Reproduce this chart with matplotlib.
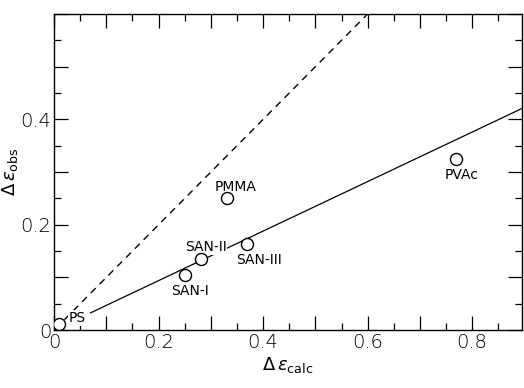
import matplotlib.pyplot as plt
from matplotlib.ticker import MultipleLocator, FuncFormatter

# data
polymers = ['PS', 'SAN-I', 'SAN-II', 'SAN-III', 'PMMA', 'PVAc']
de_calc = [0.01, 0.25, 0.282, 0.37, 0.33, 0.769]
de_obs = [0.011, 0.104, 0.136, 0.164, 0.251, 0.325]
label_x = [0.044, 0.26, 0.29, 0.393, 0.347, 0.78]
label_y = [0.023, 0.075, 0.158, 0.134, 0.272, 0.294]

fit_slope = 0.47
fit_x = [0.07, 0.9]
ideal_x = [0.02, 0.6]

fig = plt.figure(figsize=(5.24, 3.88), dpi=100)
ax = fig.add_axes([0.103, 0.149, 0.893, 0.815])

ax.plot(ideal_x, ideal_x, 'k--', lw=1.0, dashes=(5, 4))
ax.plot(fit_x, [fit_slope * v for v in fit_x], 'k-', lw=0.9)

for name, lx, ly in zip(polymers, label_x, label_y):
    ax.text(lx, ly, name, ha='center', va='center', fontsize=10,
            bbox=dict(facecolor='white', edgecolor='none', pad=0.5), zorder=3)

ax.scatter(de_calc, de_obs, s=75, facecolors='white', edgecolors='black',
           linewidths=1.0, zorder=4)

ax.set_xlim(0, 0.895)
ax.set_ylim(0, 0.6)

for axis in (ax.xaxis, ax.yaxis):
    axis.set_major_locator(MultipleLocator(0.1))
    axis.set_minor_locator(MultipleLocator(0.05))


def make_fmt(top):
    # label every other major tick, skip the ones at/after 'top'
    def fmt(v, pos):
        k = int(round(v * 10))
        if k % 2 or k >= top:
            return ''
        return '0' if k == 0 else '%.1f' % v
    return FuncFormatter(fmt)


ax.xaxis.set_major_formatter(make_fmt(9))
ax.yaxis.set_major_formatter(make_fmt(6))

ax.tick_params(which='both', direction='in', top=True, right=True,
               labelsize=14, width=0.9, pad=2)
ax.tick_params(which='major', length=10)
ax.tick_params(which='minor', length=5)
for lab in ax.get_xticklabels() + ax.get_yticklabels():
    lab.set_fontweight('light')

for sp in ax.spines.values():
    sp.set_linewidth(1.0)

ax.set_xlabel(r'$\Delta\,\epsilon_{\mathrm{calc}}$', fontsize=13, labelpad=2)
ax.set_ylabel(r'$\Delta\,\epsilon_{\mathrm{obs}}$', fontsize=13, labelpad=0)

fig.savefig('out.png', dpi=100)
